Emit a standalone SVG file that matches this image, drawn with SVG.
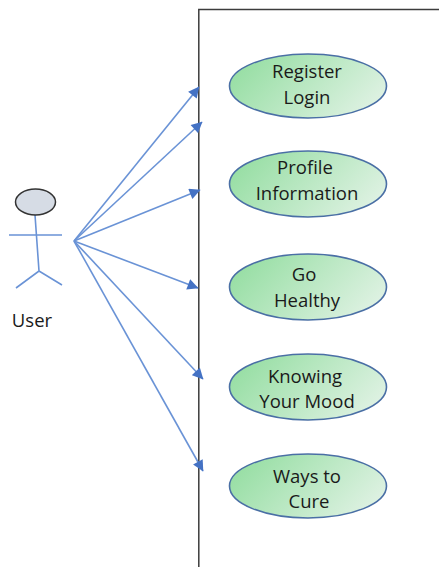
<svg xmlns="http://www.w3.org/2000/svg" width="439" height="567" viewBox="0 0 439 567">
<style>
.uc{stroke:#4a6fa5;stroke-width:1.6;fill:url(#g)}
.t{font-family:"Open Sans","Noto Sans",sans-serif;font-size:18.500px;fill:#1a1a1a;text-anchor:middle}
.c{stroke:#6a93d6;stroke-width:1.6;fill:none}
.a{stroke:#6a93d6;stroke-width:1.6;fill:none;marker-end:url(#m)}
</style>
<defs>
<linearGradient id="g" x1="0" y1="0.3" x2="1" y2="0.7"><stop offset="0" stop-color="#96dea3"/><stop offset="1" stop-color="#e0f2e4"/></linearGradient>
<marker id="m" viewBox="0 0 10 10" refX="9.500" refY="5" markerUnits="userSpaceOnUse" markerWidth="12" markerHeight="11" orient="auto"><path d="M0 0L10 5L0 10Z" fill="#4472c4"/></marker>
</defs>
<rect width="439" height="567" fill="#fff"/>
<g id="boundary"><path d="M439 9.500H198.800V567" fill="none" stroke="#3c3c3c" stroke-width="1.500"/></g>
<g id="actor-user">
<path class="c" d="M35 215L39 271M9 235H62M16 288L39 271L62 285"/>
<ellipse cx="35.500" cy="202" rx="20" ry="13" fill="#d6dce5" stroke="#333" stroke-width="1.500"/>
<text x="32" y="327" class="t">User</text>
</g>
<g id="connectors">
<path class="a" d="M74 241L199 87"/>
<path class="a" d="M74 241L202 122"/>
<path class="a" d="M74 241L200 190"/>
<path class="a" d="M74 241L198 288"/>
<path class="a" d="M74 241L203 379"/>
<path class="a" d="M74 241L203 471"/>
</g>
<g id="uc-register"><ellipse class="uc" cx="308" cy="86" rx="78.500" ry="32"/><text class="t" x="307" y="78">Register</text><text class="t" x="307" y="104">Login</text></g>
<g id="uc-profile"><ellipse class="uc" cx="308" cy="184" rx="78.500" ry="33"/><text class="t" x="305" y="174">Profile</text><text class="t" x="307" y="200">Information</text></g>
<g id="uc-healthy"><ellipse class="uc" cx="308" cy="287" rx="78.500" ry="33"/><text class="t" x="304" y="281">Go</text><text class="t" x="307" y="307">Healthy</text></g>
<g id="uc-mood"><ellipse class="uc" cx="308" cy="387" rx="78.500" ry="33"/><text class="t" x="305" y="383">Knowing</text><text class="t" x="307" y="408">Your Mood</text></g>
<g id="uc-cure"><ellipse class="uc" cx="308" cy="486" rx="78.500" ry="32"/><text class="t" x="307" y="483">Ways to</text><text class="t" x="309" y="508">Cure</text></g>
</svg>
